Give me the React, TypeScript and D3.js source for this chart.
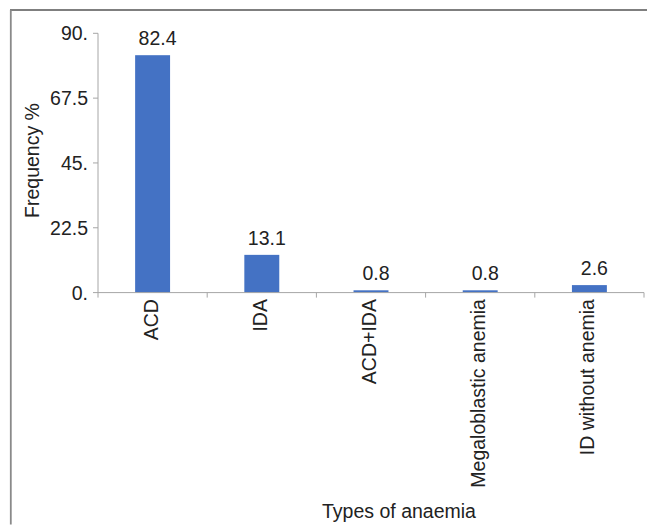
import React from "react";
import * as d3 from "d3";

const categories = ["ACD", "IDA", "ACD+IDA", "Megaloblastic anemia", "ID without anemia"];
const values = [82.4, 13.1, 0.8, 0.8, 2.6];
const valueLabels = ["82.4", "13.1", "0.8", "0.8", "2.6"];
const yTicks = [0, 22.5, 45, 67.5, 90];
const yTickLabels = ["0.", "22.5", "45.", "67.5", "90."];
const xTitle = "Types of anaemia";
const yTitle = "Frequency %";

const W = 647;
const H = 525;
const FONT = "Arial, 'Liberation Sans', sans-serif";
const FS = 19.5;

export default function App() {
  const x = d3.scaleBand<string>().domain(categories).range([98, 644]).paddingInner(0).paddingOuter(0);
  const y = d3.scaleLinear().domain([0, 90]).range([292.6, 33.3]);
  const bw = x.bandwidth() * 0.32;
  const axisColor = "#a6a6a6";
  const textColor = "#222";

  return (
    <svg width={W} height={H} style={{ position: "absolute", left: 0, top: 0 }} fontFamily={FONT}>
      <rect x={0} y={0} width={W} height={H} fill="#fff" />
      {/* frame */}
      <line x1={10} y1={10} x2={W} y2={10} stroke="#7f7f7f" strokeWidth={1.8} />
      <line x1={10.8} y1={10} x2={10.8} y2={524.5} stroke="#8a8a8a" strokeWidth={1.8} />

      {/* y axis */}
      <line x1={98} y1={y(90)} x2={98} y2={y(0)} stroke={axisColor} strokeWidth={1} />
      {yTicks.map((t, i) => (
        <g key={t}>
          <line x1={93} x2={98} y1={y(t)} y2={y(t)} stroke={axisColor} strokeWidth={1} />
          <text x={88} y={y(t)} dy="0.36em" textAnchor="end" fontSize={FS} fill={textColor}>
            {yTickLabels[i]}
          </text>
        </g>
      ))}

      {/* bars */}
      {categories.map((c, i) => {
        const cx = (x(c) as number) + x.bandwidth() / 2;
        return (
          <g key={c}>
            <rect x={cx - bw / 2} y={y(values[i])} width={bw} height={y(0) - y(values[i])} fill="#4472c4" />
            <text x={cx + 5} y={y(values[i]) - 10} textAnchor="middle" fontSize={FS} fill={textColor}>
              {valueLabels[i]}
            </text>
          </g>
        );
      })}

      {/* x axis */}
      <line x1={98} x2={644} y1={y(0)} y2={y(0)} stroke={axisColor} strokeWidth={1} />
      {[...categories.map((c) => x(c) as number), 644].map((t, i) => (
        <line key={i} x1={t} x2={t} y1={y(0)} y2={y(0) + 5} stroke={axisColor} strokeWidth={1} />
      ))}
      {categories.map((c) => {
        const cx = (x(c) as number) + x.bandwidth() / 2 - 2;
        return (
          <text
            key={c}
            transform={`translate(${cx},${y(0) + 6.5}) rotate(-90)`}
            textAnchor="end"
            dy="0.36em"
            fontSize={FS}
            fill={textColor}
          >
            {c}
          </text>
        );
      })}

      {/* titles */}
      <text x={399} y={518} textAnchor="middle" fontSize={FS} fill={textColor}>
        {xTitle}
      </text>
      <text transform={`translate(39,160.5) rotate(-90)`} textAnchor="middle" fontSize={FS} fill={textColor}>
        {yTitle}
      </text>
    </svg>
  );
}
